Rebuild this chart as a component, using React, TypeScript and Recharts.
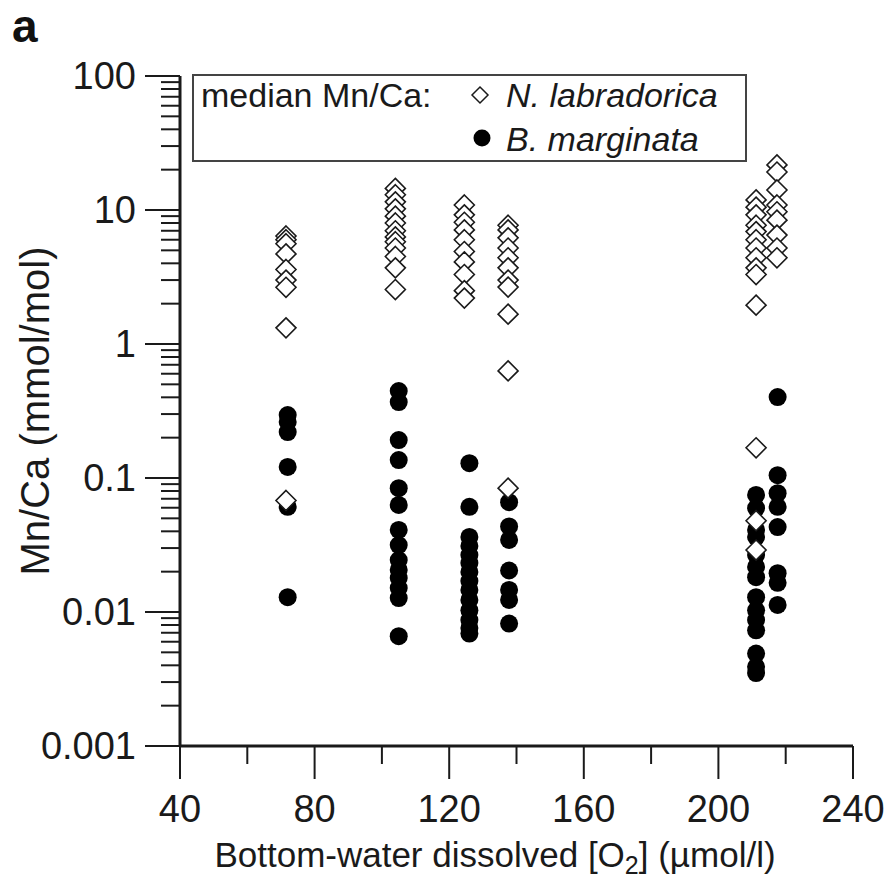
import { ScatterChart, Scatter, XAxis, YAxis, Legend } from 'recharts';

const FONT = '"Liberation Sans", Arial, Helvetica, sans-serif';
const INK = '#1a1a1a';

// bottom-water O2 (µmol/l) of each station; diamonds and dots sit a hair apart
const LAB_O2 = [71.5, 104, 124.5, 137.5, 211.2, 217.4];
const MARG_O2 = [72, 105, 126, 137.8, 211.2, 217.6];

// N. labradorica Mn/Ca (mmol/mol), one list per station
const LAB_72 = [6.4, 6.0, 5.6, 4.7, 3.6, 3.0, 2.65, 1.32, 0.068];
const LAB_104 = [14.5, 13, 11.5, 10.2, 9.0, 8.0, 7.0, 6.3, 5.8, 5.2, 4.5, 3.7, 2.55];
const LAB_125 = [10.9, 9.2, 8.1, 7.1, 6.0, 4.9, 4.1, 3.3, 2.5, 2.2];
const LAB_137 = [7.7, 7.1, 6.2, 5.2, 4.4, 3.7, 3.0, 2.66, 1.67, 0.63, 0.084];
const LAB_211 = [11.9, 10.5, 9.2, 7.7, 6.9, 6.0, 5.2, 4.4, 3.7, 3.3, 1.95, 0.168, 0.048, 0.029];
const LAB_217 = [21.7, 19.2, 14.1, 10.9, 9.7, 8.4, 6.5, 5.2, 4.4];

// B. marginata Mn/Ca (mmol/mol)
const MARG_72 = [0.295, 0.262, 0.22, 0.121, 0.061, 0.0129];
const MARG_105 = [0.446, 0.369, 0.192, 0.136, 0.084, 0.063, 0.041, 0.0316, 0.0244, 0.0206, 0.0179, 0.0151, 0.0127, 0.0066];
const MARG_126 = [0.129, 0.061, 0.0363, 0.0311, 0.0266, 0.0232, 0.0199, 0.017, 0.0146, 0.0123, 0.0103, 0.0087, 0.0076, 0.0069];
const MARG_137 = [0.066, 0.0435, 0.0345, 0.0204, 0.0146, 0.0123, 0.0082];
const MARG_211 = [0.0747, 0.0597, 0.041, 0.0363, 0.0266, 0.0217, 0.0182, 0.0129, 0.0103, 0.0087, 0.0073, 0.0049, 0.0039, 0.0035];
const MARG_217 = [0.402, 0.105, 0.077, 0.061, 0.043, 0.0195, 0.0165, 0.0113];

const LAB_VALUES = [LAB_72, LAB_104, LAB_125, LAB_137, LAB_211, LAB_217];
const MARG_VALUES = [MARG_72, MARG_105, MARG_126, MARG_137, MARG_211, MARG_217];

const X_TICKS = [40, 60, 80, 100, 120, 140, 160, 180, 200, 220, 240];
const Y_MAJOR = [0.001, 0.01, 0.1, 1, 10, 100];
const Y_LABELS = ['0.001', '0.01', '0.1', '1', '10', '100'];

// log minor ticks 2..9 inside each decade
const Y_TICKS = Y_MAJOR.flatMap((d, i) =>
  i === Y_MAJOR.length - 1 ? [d] : [d, ...[2, 3, 4, 5, 6, 7, 8, 9].map((k) => d * k)]
);

const labData = LAB_O2.flatMap((o2, i) => LAB_VALUES[i].map((v) => ({ o2, mnca: v })));
const margData = MARG_O2.flatMap((o2, i) => MARG_VALUES[i].map((v) => ({ o2, mnca: v })));

function Diamond({ cx, cy }: any) {
  if (cx == null || cy == null) return null;
  const r = 10;
  return (
    <path
      d={`M${cx},${cy - r}L${cx + r},${cy}L${cx},${cy + r}L${cx - r},${cy}Z`}
      fill="#fff"
      stroke={INK}
      strokeWidth={1.6}
    />
  );
}

function Dot({ cx, cy }: any) {
  if (cx == null || cy == null) return null;
  return <circle cx={cx} cy={cy} r={9} fill="#000" />;
}

function YTick({ x, y, payload }: any) {
  const i = Y_MAJOR.findIndex((m) => Math.abs(m - payload.value) / m < 1e-6);
  const major = i >= 0;
  return (
    <g>
      <line x1={x - (major ? 35 : 19)} x2={x} y1={y} y2={y} stroke={INK} strokeWidth={2} />
      {major && (
        <text x={x - 44} y={y} textAnchor="end" dominantBaseline="central" fontSize={38} fontFamily={FONT} fill={INK}>
          {Y_LABELS[i]}
        </text>
      )}
    </g>
  );
}

function XTick({ x, y, payload }: any) {
  const major = payload.value % 40 === 0;
  return (
    <g>
      <line x1={x} x2={x} y1={y} y2={y + (major ? 33 : 18)} stroke={INK} strokeWidth={2} />
      {major && (
        <text x={x} y={y + 63} textAnchor="middle" dominantBaseline="central" fontSize={38} fontFamily={FONT} fill={INK}>
          {payload.value}
        </text>
      )}
    </g>
  );
}

function XTitle({ viewBox }: any) {
  const { x, y } = viewBox;
  return (
    <text x={x + 315} y={y + 121} textAnchor="middle" fontSize={35} fontFamily={FONT} fill={INK}>
      Bottom-water dissolved [O
      <tspan dy={7} fontSize={25}>2</tspan>
      <tspan dy={-7}>] (µmol/l)</tspan>
    </text>
  );
}

function YTitle({ viewBox }: any) {
  const { x, y, height } = viewBox;
  const cx = x - 45;
  const cy = y + height / 2;
  return (
    <text
      x={cx}
      y={cy}
      transform={`rotate(-90, ${cx}, ${cy})`}
      textAnchor="middle"
      dominantBaseline="central"
      fontSize={40}
      fontFamily={FONT}
      fill={INK}
    >
      Mn/Ca (mmol/mol)
    </text>
  );
}

function LegendBox() {
  return (
    <svg width={555} height={88} style={{ display: 'block' }}>
      <rect x={1} y={1} width={553} height={86} fill="#fff" stroke="#444" strokeWidth={2} />
      <text x={9} y={33} fontSize={34} fontFamily={FONT} fill={INK}>
        median Mn/Ca:
      </text>
      <path d="M288,13L296,21L288,29L280,21Z" fill="#fff" stroke={INK} strokeWidth={1.5} />
      <text x={314} y={33} fontSize={34} fontStyle="italic" fontFamily={FONT} fill={INK}>
        N. labradorica
      </text>
      <circle cx={290} cy={64} r={8.5} fill="#000" />
      <text x={314} y={77} fontSize={34} fontStyle="italic" fontFamily={FONT} fill={INK}>
        B. marginata
      </text>
    </svg>
  );
}

export default function App() {
  return (
    <div style={{ position: 'absolute', left: 0, top: 0, width: 887, height: 881, background: '#fff', fontFamily: FONT }}>
      <ScatterChart width={887} height={881} margin={{ top: 76, right: 34, bottom: 35, left: 80 }}>
        <XAxis
          type="number"
          dataKey="o2"
          domain={[40, 240]}
          ticks={X_TICKS}
          interval={0}
          height={100}
          tickSize={0}
          tickMargin={0}
          tickLine={false}
          tick={<XTick />}
          axisLine={{ stroke: INK, strokeWidth: 3 }}
          label={{ content: XTitle }}
        />
        <YAxis
          type="number"
          dataKey="mnca"
          scale="log"
          domain={[0.001, 100]}
          ticks={Y_TICKS}
          interval={0}
          width={100}
          tickSize={0}
          tickMargin={0}
          tickLine={false}
          tick={<YTick />}
          axisLine={{ stroke: INK, strokeWidth: 3 }}
          label={{ content: YTitle }}
        />
        <Legend
          layout="vertical"
          align="center"
          verticalAlign="middle"
          content={LegendBox}
          wrapperStyle={{ left: 192, top: 74, width: 555, height: 88 }}
        />
        <Scatter name="B. marginata" data={margData} shape={Dot} isAnimationActive={false} />
        <Scatter name="N. labradorica" data={labData} shape={Diamond} isAnimationActive={false} />
      </ScatterChart>
      <svg width={887} height={60} style={{ position: 'absolute', left: 0, top: 0, pointerEvents: 'none' }}>
        <text x={12} y={42} fontSize={46} fontWeight="bold" fontFamily={FONT} fill="#111">
          a
        </text>
      </svg>
    </div>
  );
}
